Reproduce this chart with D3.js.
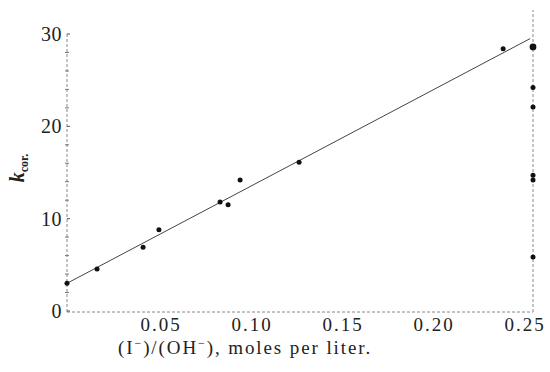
<!DOCTYPE html>
<html>
<head>
<meta charset="utf-8">
<script src="https://cdn.jsdelivr.net/npm/d3@7/dist/d3.min.js"></script>
<style>
  html, body { margin: 0; padding: 0; background: #fff; }
  svg text { font-family: "Liberation Serif", "DejaVu Serif", serif; fill: #222; }
</style>
</head>
<body>
<div id="chart"></div>
<script>
// data
const xTicks = [0.05, 0.10, 0.15, 0.20, 0.25];
const xTickLabels = ["0.05", "0.10", "0.15", "0.20", "0.25"];
const yTicks = [0, 10, 20, 30];
const yTickLabels = ["0", "10", "20", "30"];
const yMinorTicks = [2, 4, 6, 8, 12, 14, 16, 18, 22, 24, 26, 28];

const pointsX = [0, 0.0165, 0.0418, 0.0505, 0.0841, 0.0885, 0.0951, 0.1275, 0.2396];
const pointsY = [3.0, 4.55, 6.9, 8.8, 11.8, 11.5, 14.2, 16.1, 28.4];

// points sitting on the right-hand frame
const edgeX = 0.256;
const edgeY = [28.6, 24.2, 22.1, 14.7, 14.2, 5.85];

// fitted straight line
const fitX = [0, 0.2544];
const fitY = [3.0, 29.5];

const xDomain = [0, 0.256];
const yDomain = [0, 30];
const frameTop = 32.6;   // right frame runs a bit above the 30 tick

const config = {
  width: 550,
  height: 372,
  plot: { left: 67, right: 533, top: 34, bottom: 311 },
  pointRadius: 2.5,
};

const svg = d3.select('#chart').append('svg')
  .attr('width', config.width)
  .attr('height', config.height);

const xScale = d3.scaleLinear().domain(xDomain).range([config.plot.left, config.plot.right]);
const yScale = d3.scaleLinear().domain(yDomain).range([config.plot.bottom, config.plot.top]);

const axisStyle = g => g
  .attr('stroke', '#888')
  .attr('stroke-width', 1)
  .attr('stroke-dasharray', '3,2')
  .attr('fill', 'none');

// left axis
svg.append('path')
  .attr('d', `M${xScale(0)},${yScale(0) + 1}V${yScale(30)}`)
  .call(axisStyle);
// bottom axis
svg.append('path')
  .attr('d', `M${xScale(0)},${yScale(0) + 1}H${xScale(edgeX)}`)
  .call(axisStyle);
// right frame
svg.append('path')
  .attr('d', `M${xScale(edgeX)},${yScale(0) + 1}V${yScale(frameTop)}`)
  .call(axisStyle);

// tick marks on the left axis
svg.append('g').selectAll('line.minor')
  .data(yMinorTicks)
  .join('line')
  .attr('class', 'minor')
  .attr('x1', xScale(0) - 2).attr('x2', xScale(0) + 2)
  .attr('y1', d => yScale(d)).attr('y2', d => yScale(d))
  .attr('stroke', '#777').attr('stroke-width', 1);
svg.append('g').selectAll('line.major')
  .data(yTicks)
  .join('line')
  .attr('class', 'major')
  .attr('x1', xScale(0)).attr('x2', xScale(0) + 3)
  .attr('y1', d => yScale(d)).attr('y2', d => yScale(d))
  .attr('stroke', '#555').attr('stroke-width', 1);

// y tick labels
svg.append('g').selectAll('text')
  .data(yTicks)
  .join('text')
  .attr('x', xScale(0) - 5)
  .attr('y', d => yScale(d))
  .attr('dy', '0.35em')
  .attr('text-anchor', 'end')
  .style('font-size', '20px')
  .style('letter-spacing', '0.5px')
  .text((d, i) => yTickLabels[i]);

// x tick labels
svg.append('g').selectAll('text')
  .data(xTicks)
  .join('text')
  .attr('x', d => xScale(d) + 3)
  .attr('y', 331)
  .attr('text-anchor', 'middle')
  .style('font-size', '19px')
  .style('letter-spacing', '2px')
  .text((d, i) => xTickLabels[i]);

// x axis title
const xTitle = svg.append('text')
  .attr('x', 118)
  .attr('y', 354)
  .style('font-size', '19px')
  .style('letter-spacing', '1.9px');
xTitle.append('tspan').text('(I');
xTitle.append('tspan').attr('dy', -7).style('font-size', '12px').text('−');
xTitle.append('tspan').attr('dy', 7).text(')/(OH');
xTitle.append('tspan').attr('dy', -7).style('font-size', '12px').text('−');
xTitle.append('tspan').attr('dy', 7).text('), moles per liter.');

// y axis title
const yTitle = svg.append('text')
  .attr('transform', `translate(24, 168) rotate(-90)`)
  .attr('text-anchor', 'middle')
  .style('font-size', '20px');
yTitle.append('tspan').style('font-style', 'italic').style('font-weight', 'bold').text('k');
yTitle.append('tspan').attr('dy', 4).style('font-size', '12px').style('font-weight', 'bold').text('cor.');

// fitted line
const line = d3.line()
  .x(d => xScale(d[0]))
  .y(d => yScale(d[1]));
svg.append('path')
  .datum(fitX.map((x, i) => [x, fitY[i]]))
  .attr('d', line)
  .attr('fill', 'none')
  .attr('stroke', '#444')
  .attr('stroke-width', 1);

// data points
svg.append('g').selectAll('circle')
  .data(pointsX.map((x, i) => [x, pointsY[i]]))
  .join('circle')
  .attr('cx', d => xScale(d[0]))
  .attr('cy', d => yScale(d[1]))
  .attr('r', config.pointRadius)
  .attr('fill', '#111');

svg.append('g').selectAll('circle')
  .data(edgeY)
  .join('circle')
  .attr('cx', xScale(edgeX))
  .attr('cy', d => yScale(d))
  .attr('r', (d, i) => i === 0 ? 3.4 : config.pointRadius)
  .attr('fill', '#111');
</script>
</body>
</html>
